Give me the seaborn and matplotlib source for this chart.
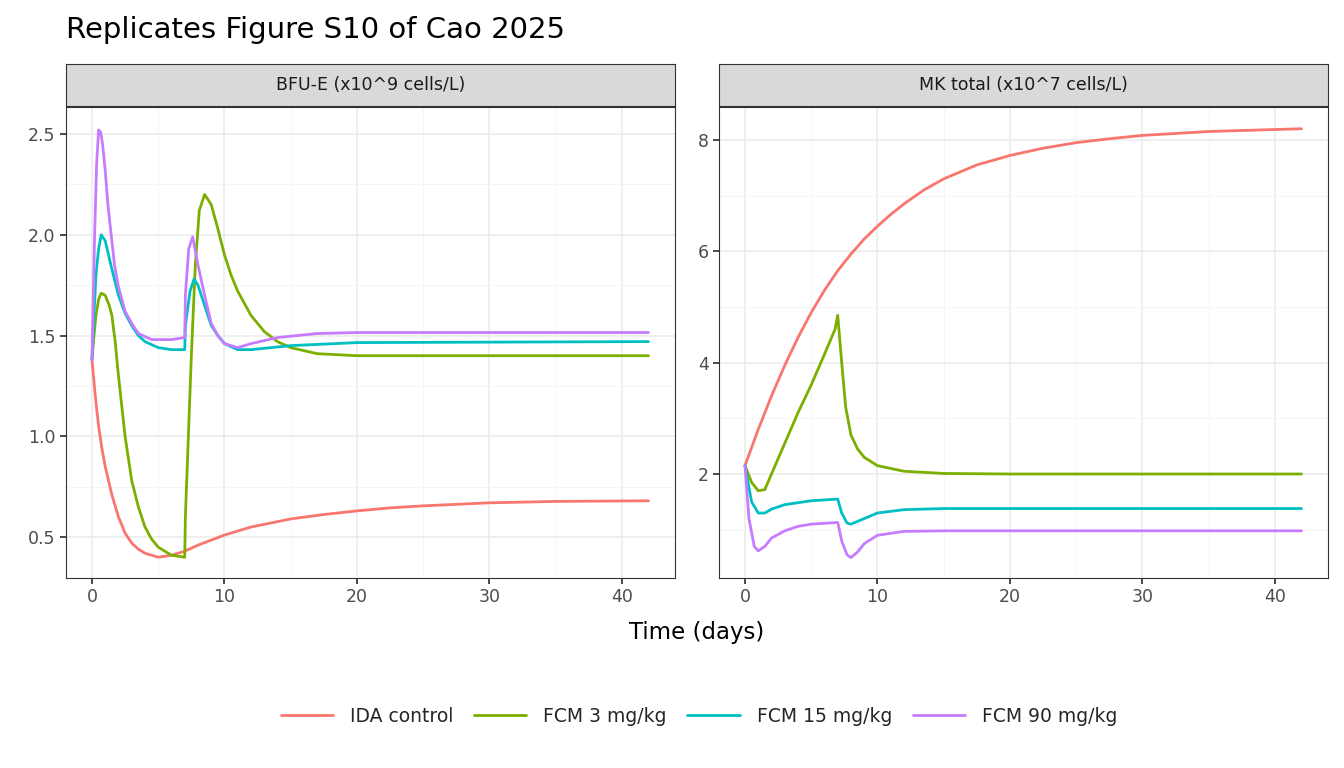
import pandas as pd
import matplotlib
matplotlib.use("Agg")
import matplotlib.pyplot as plt
import seaborn as sns
from matplotlib.ticker import MultipleLocator

groups = ["IDA control", "FCM 3 mg/kg", "FCM 15 mg/kg", "FCM 90 mg/kg"]
colors = ["#F8766D", "#7CAE00", "#00BFC4", "#C77CFF"]

# BFU-E panel (time, value)
bfu_ida_t = [0, 0.25, 0.5, 0.75, 1, 1.5, 2, 2.5, 3, 3.5, 4, 5, 6, 7, 8, 9, 10, 11, 12, 13.5, 15, 17.5, 20, 22.5, 25, 30, 35, 42]
bfu_ida_v = [1.38, 1.2, 1.05, 0.94, 0.85, 0.71, 0.6, 0.52, 0.47, 0.44, 0.42, 0.40, 0.41, 0.43, 0.46, 0.485, 0.51, 0.53, 0.55, 0.57, 0.59, 0.612, 0.63, 0.645, 0.655, 0.67, 0.677, 0.68]
bfu_f3_t = [0, 0.15, 0.3, 0.5, 0.7, 1, 1.3, 1.5, 1.75, 2, 2.5, 3, 3.5, 4, 4.5, 5, 6, 7, 7.05, 7.5, 7.8, 8.1, 8.5, 9, 9.5, 10, 10.5, 11, 12, 13, 14, 15, 17, 20, 42]
bfu_f3_v = [1.38, 1.5, 1.6, 1.68, 1.71, 1.70, 1.65, 1.6, 1.47, 1.3, 1.0, 0.78, 0.65, 0.55, 0.49, 0.45, 0.41, 0.40, 0.6, 1.4, 1.85, 2.12, 2.2, 2.15, 2.03, 1.9, 1.8, 1.72, 1.6, 1.52, 1.47, 1.44, 1.41, 1.40, 1.40]
bfu_f15_t = [0, 0.15, 0.3, 0.5, 0.7, 1, 1.5, 2, 2.5, 3, 3.5, 4, 5, 6, 7, 7.05, 7.4, 7.7, 8, 8.5, 9, 9.5, 10, 11, 12, 15, 20, 42]
bfu_f15_v = [1.38, 1.6, 1.8, 1.93, 2.0, 1.97, 1.83, 1.7, 1.61, 1.55, 1.5, 1.47, 1.44, 1.43, 1.43, 1.55, 1.72, 1.78, 1.75, 1.65, 1.55, 1.5, 1.46, 1.43, 1.43, 1.45, 1.465, 1.47]
bfu_f90_t = [0, 0.1, 0.2, 0.35, 0.5, 0.65, 0.8, 1, 1.2, 1.45, 1.7, 2, 2.5, 3, 3.5, 4.5, 6, 7, 7.05, 7.3, 7.6, 8, 8.5, 9, 9.5, 10, 11, 12, 14, 17, 20, 42]
bfu_f90_v = [1.38, 1.7, 2.0, 2.35, 2.52, 2.51, 2.45, 2.32, 2.15, 2.0, 1.85, 1.74, 1.62, 1.56, 1.51, 1.48, 1.48, 1.49, 1.7, 1.93, 1.99, 1.85, 1.7, 1.56, 1.5, 1.46, 1.44, 1.46, 1.49, 1.51, 1.515, 1.515]

# MK total panel
mk_ida_t = [0, 1, 2, 3, 4, 5, 6, 7, 8, 9, 10, 11, 12, 13.5, 15, 17.5, 20, 22.5, 25, 27.5, 30, 35, 42]
mk_ida_v = [2.15, 2.8, 3.4, 3.95, 4.45, 4.9, 5.3, 5.65, 5.95, 6.22, 6.45, 6.66, 6.85, 7.1, 7.3, 7.55, 7.72, 7.85, 7.95, 8.02, 8.08, 8.15, 8.2]
mk_f3_t = [0, 0.5, 1, 1.5, 2, 3, 4, 5, 6, 6.8, 7, 7.3, 7.6, 8, 8.5, 9, 10, 12, 15, 20, 42]
mk_f3_v = [2.15, 1.85, 1.7, 1.72, 2.0, 2.55, 3.1, 3.6, 4.15, 4.6, 4.85, 4.0, 3.2, 2.7, 2.45, 2.3, 2.15, 2.05, 2.01, 2.0, 2.0]
mk_f15_t = [0, 0.5, 1, 1.5, 2, 3, 5, 7, 7.3, 7.7, 8, 9, 10, 12, 15, 42]
mk_f15_v = [2.15, 1.5, 1.3, 1.3, 1.37, 1.45, 1.52, 1.55, 1.3, 1.12, 1.1, 1.2, 1.3, 1.36, 1.38, 1.38]
mk_f90_t = [0, 0.3, 0.7, 1, 1.5, 2, 3, 4, 5, 7, 7.3, 7.7, 8, 8.5, 9, 10, 12, 15, 42]
mk_f90_v = [2.15, 1.2, 0.7, 0.62, 0.7, 0.85, 0.98, 1.06, 1.1, 1.13, 0.8, 0.55, 0.5, 0.6, 0.75, 0.9, 0.97, 0.98, 0.98]


def long_df(series):
    rows = []
    for g, (ts, vs) in zip(groups, series):
        rows += [(g, t, v) for t, v in zip(ts, vs)]
    return pd.DataFrame(rows, columns=["group", "time", "value"])


bfu = long_df([(bfu_ida_t, bfu_ida_v), (bfu_f3_t, bfu_f3_v), (bfu_f15_t, bfu_f15_v), (bfu_f90_t, bfu_f90_v)])
mk = long_df([(mk_ida_t, mk_ida_v), (mk_f3_t, mk_f3_v), (mk_f15_t, mk_f15_v), (mk_f90_t, mk_f90_v)])

sns.set_theme(style="white")
plt.rcParams["font.family"] = ["DejaVu Sans"]
fig = plt.figure(figsize=(13.44, 7.68), dpi=100)
W, H = 1344, 768

panels = [
    (bfu, 66, "BFU-E (x10^9 cells/L)", (0.297, 2.634), 0.5, 0.25),
    (mk, 719, "MK total (x10^7 cells/L)", (0.133, 8.59), 2, 1),
]
for df, x0, strip, ylim, major, minor in panels:
    ax = fig.add_axes([x0 / W, 1 - 578 / H, 609 / W, 471 / H])
    sns.lineplot(data=df, x="time", y="value", hue="group", hue_order=groups,
                 palette=colors, ax=ax, linewidth=2, legend=False, sort=True, estimator=None)
    for ln in ax.get_lines():
        ln.set_solid_joinstyle("round")
    ax.set_xlim(-1.96, 44.0)
    ax.set_ylim(*ylim)
    ax.xaxis.set_major_locator(MultipleLocator(10))
    ax.xaxis.set_minor_locator(MultipleLocator(5))
    ax.yaxis.set_major_locator(MultipleLocator(major))
    ax.yaxis.set_minor_locator(MultipleLocator(minor))
    ax.grid(which="major", color="#EBEBEB", linewidth=1.1)
    ax.grid(which="minor", color="#F4F4F4", linewidth=0.6)
    ax.set_axisbelow(True)
    for s in ax.spines.values():
        s.set_color("#333333")
        s.set_linewidth(0.8)
    ax.tick_params(which="major", length=4, color="#333333", labelsize=12.5, labelcolor="#4D4D4D", bottom=True, left=True)
    ax.set_xlabel("")
    ax.set_ylabel("")
    sax = fig.add_axes([x0 / W, 1 - 106 / H, 609 / W, 42 / H])
    sax.set_facecolor("#D9D9D9")
    sax.set_xticks([])
    sax.set_yticks([])
    for s in sax.spines.values():
        s.set_color("#333333")
        s.set_linewidth(0.8)
    sax.text(0.5, 0.5, strip, ha="center", va="center", fontsize=12.5, color="#1A1A1A", transform=sax.transAxes)

fig.text(66 / W, 1 - 30 / H, "Replicates Figure S10 of Cao 2025", fontsize=21, va="center", ha="left", color="black")
fig.text(697 / W, 1 - 633 / H, "Time (days)", fontsize=16.5, ha="center", va="center", color="black")

handles = [plt.Line2D([], [], color=c, linewidth=2) for c in colors]
fig.legend(handles, groups, loc="center", bbox_to_anchor=(699 / W, 1 - 716 / H), ncol=4,
           frameon=False, fontsize=13.5, handlelength=2.8, handletextpad=0.9, columnspacing=1.1)

fig.savefig("out.png", dpi=100)
